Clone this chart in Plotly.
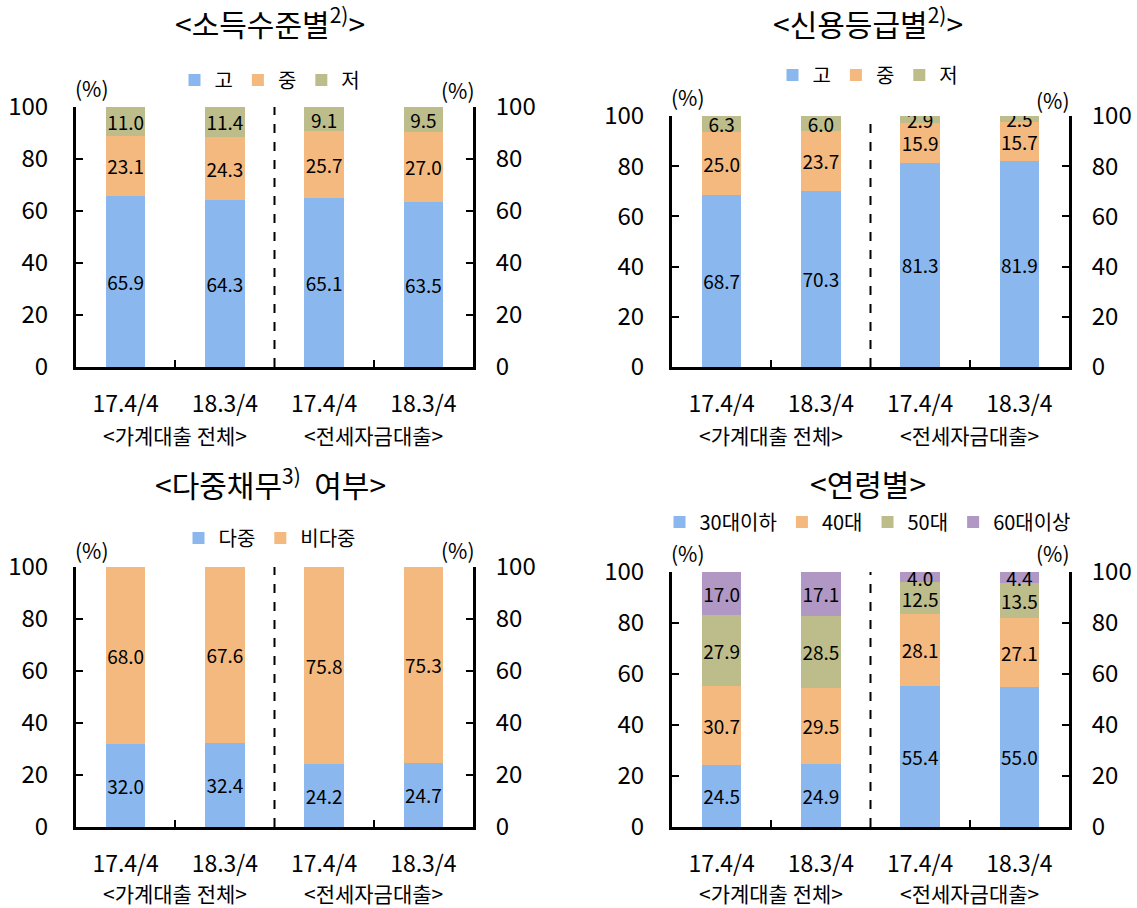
import plotly.graph_objects as go

W, H = 1137, 908
FONT = "Noto Sans CJK KR"

categories = ["17.4/4", "18.3/4", "17.4/4", "18.3/4"]
groups = ["<가계대출 전체>", "<전세자금대출>"]

titles = ["<소득수준별<sup>2)</sup>>", "<신용등급별<sup>2)</sup>>",
          "<다중채무<sup>3)</sup>  여부>", "<연령별>"]

# Panel 1: income level
income_names = ["고", "중", "저"]
income_high = [65.9, 64.3, 65.1, 63.5]
income_mid = [23.1, 24.3, 25.7, 27.0]
income_low = [11.0, 11.4, 9.1, 9.5]

# Panel 2: credit grade
credit_names = ["고", "중", "저"]
credit_high = [68.7, 70.3, 81.3, 81.9]
credit_mid = [25.0, 23.7, 15.9, 15.7]
credit_low = [6.3, 6.0, 2.9, 2.5]

# Panel 3: multiple debt
multi_names = ["다중", "비다중"]
multi_yes = [32.0, 32.4, 24.2, 24.7]
multi_no = [68.0, 67.6, 75.8, 75.3]

# Panel 4: age
age_names = ["30대이하", "40대", "50대", "60대이상"]
age_30 = [24.5, 24.9, 55.4, 55.0]
age_40 = [30.7, 29.5, 28.1, 27.1]
age_50 = [27.9, 28.5, 12.5, 13.5]
age_60 = [17.0, 17.1, 4.0, 4.4]

yticks = [0, 20, 40, 60, 80, 100]

C_BLUE = "#8AB8EE"
C_ORANGE = "#F4B97F"
C_OLIVE = "#BDBD8B"
C_PURPLE = "#B197C3"

panels = [
    dict(series=[income_high, income_mid, income_low], names=income_names,
         colors=[C_BLUE, C_ORANGE, C_OLIVE],
         px=(76, 473), py=(107, 367), title=(270, 22), legend=(270, 80),
         pct_l=(92, 88), pct_r=(458, 90), grp_y=435),
    dict(series=[credit_high, credit_mid, credit_low], names=credit_names,
         colors=[C_BLUE, C_ORANGE, C_OLIVE],
         px=(672, 1069), py=(116, 367), title=(868, 22), legend=(868, 75),
         pct_l=(688, 97), pct_r=(1053, 100), grp_y=435),
    dict(series=[multi_yes, multi_no], names=multi_names,
         colors=[C_BLUE, C_ORANGE],
         px=(76, 473), py=(567, 827), title=(270, 483), legend=(270, 538),
         pct_l=(92, 550), pct_r=(458, 550), grp_y=893),
    dict(series=[age_30, age_40, age_50, age_60], names=age_names,
         colors=[C_BLUE, C_ORANGE, C_OLIVE, C_PURPLE],
         px=(672, 1069), py=(572, 827), title=(868, 483), legend=(868, 522),
         pct_l=(688, 553), pct_r=(1053, 553), grp_y=893),
]

fig = go.Figure()
annotations = []
shapes = []
layout = dict(width=W, height=H,
              margin=dict(l=0, r=0, t=0, b=0, autoexpand=False),
              paper_bgcolor="white", plot_bgcolor="white",
              barmode="stack", bargap=0.6,
              font=dict(family=FONT, color="black"))


def px2x(v):
    return v / W


def py2y(v):
    return 1 - v / H


for i, p in enumerate(panels):
    n = i + 1
    xid = "x" if n == 1 else f"x{n}"
    yid = "y" if n == 1 else f"y{n}"
    ryid = f"y{n + 4}"
    xkey = "xaxis" if n == 1 else f"xaxis{n}"
    ykey = "yaxis" if n == 1 else f"yaxis{n}"
    rykey = f"yaxis{n + 4}"
    lref = "legend" if n == 1 else f"legend{n}"

    for vals, name, col in zip(p["series"], p["names"], p["colors"]):
        fig.add_trace(go.Bar(
            x=list(range(len(categories))), y=vals, name=name,
            marker=dict(color=col, line=dict(width=0)),
            xaxis=xid, yaxis=yid, legend=lref,
            texttemplate="%{y:.1f}", textposition="inside",
            insidetextanchor="middle", textangle=0, constraintext="none",
            textfont=dict(family=FONT, size=19, color="black"),
            hoverinfo="skip",
        ))
    # invisible helper so the right-hand (secondary) axis gets drawn
    fig.add_trace(go.Scatter(x=[0], y=[0], xaxis=xid, yaxis=ryid, mode="markers",
                             marker=dict(opacity=0), showlegend=False,
                             hoverinfo="skip"))

    xd = [px2x(p["px"][0]), px2x(p["px"][1])]
    yd = [py2y(p["py"][1]), py2y(p["py"][0])]
    layout[xkey] = dict(
        domain=xd, anchor=yid, range=[-0.5, 3.5],
        tickmode="array", tickvals=[0, 1, 2, 3], ticktext=categories,
        ticks="", showline=True, linewidth=3, linecolor="black",
        showgrid=False, zeroline=False, fixedrange=True, automargin=False,
        tickfont=dict(size=23, family=FONT), ticklabelstandoff=14,
        minor=dict(tickmode="array", tickvals=[0.5, 2.5], ticks="inside",
                   ticklen=7, tickwidth=2, tickcolor="black", showgrid=False),
    )
    common_y = dict(range=[0, 100], tickmode="array", tickvals=yticks,
                    ticks="inside", ticklen=7, tickwidth=2, tickcolor="black",
                    showline=True, linewidth=3, linecolor="black",
                    showgrid=False, zeroline=False, fixedrange=True,
                    automargin=False, tickfont=dict(size=24, family=FONT))
    layout[ykey] = dict(domain=yd, anchor=xid, side="left",
                        ticklabelstandoff=20, **common_y)
    layout[rykey] = dict(overlaying=yid, anchor=xid, side="right",
                         ticklabelstandoff=15, **common_y)

    layout[lref] = dict(orientation="h", x=px2x(p["legend"][0]), y=py2y(p["legend"][1]),
                        xanchor="center", yanchor="middle",
                        font=dict(size=20, family=FONT), itemwidth=30,
                        bgcolor="rgba(0,0,0,0)", traceorder="normal")

    shapes.append(dict(type="line", xref=xid, yref=yid, x0=1.5, x1=1.5, y0=0, y1=100,
                       line=dict(color="black", width=2, dash="dash")))

    annotations.append(dict(text=titles[i], x=px2x(p["title"][0]), y=py2y(p["title"][1]),
                            xref="paper", yref="paper", showarrow=False,
                            xanchor="center", yanchor="middle",
                            font=dict(size=30, family=FONT)))
    for pos in (p["pct_l"], p["pct_r"]):
        annotations.append(dict(text="(%)", x=px2x(pos[0]), y=py2y(pos[1]),
                                xref="paper", yref="paper", showarrow=False,
                                xanchor="center", yanchor="middle",
                                font=dict(size=21, family=FONT)))
    for gx, g in zip([0.5, 2.5], groups):
        annotations.append(dict(text=g, x=gx, y=py2y(p["grp_y"]),
                                xref=xid, yref="paper", showarrow=False,
                                xanchor="center", yanchor="middle",
                                font=dict(size=21, family=FONT)))

layout["annotations"] = annotations
layout["shapes"] = shapes
fig.update_layout(**layout)
fig.write_html("out.html")
